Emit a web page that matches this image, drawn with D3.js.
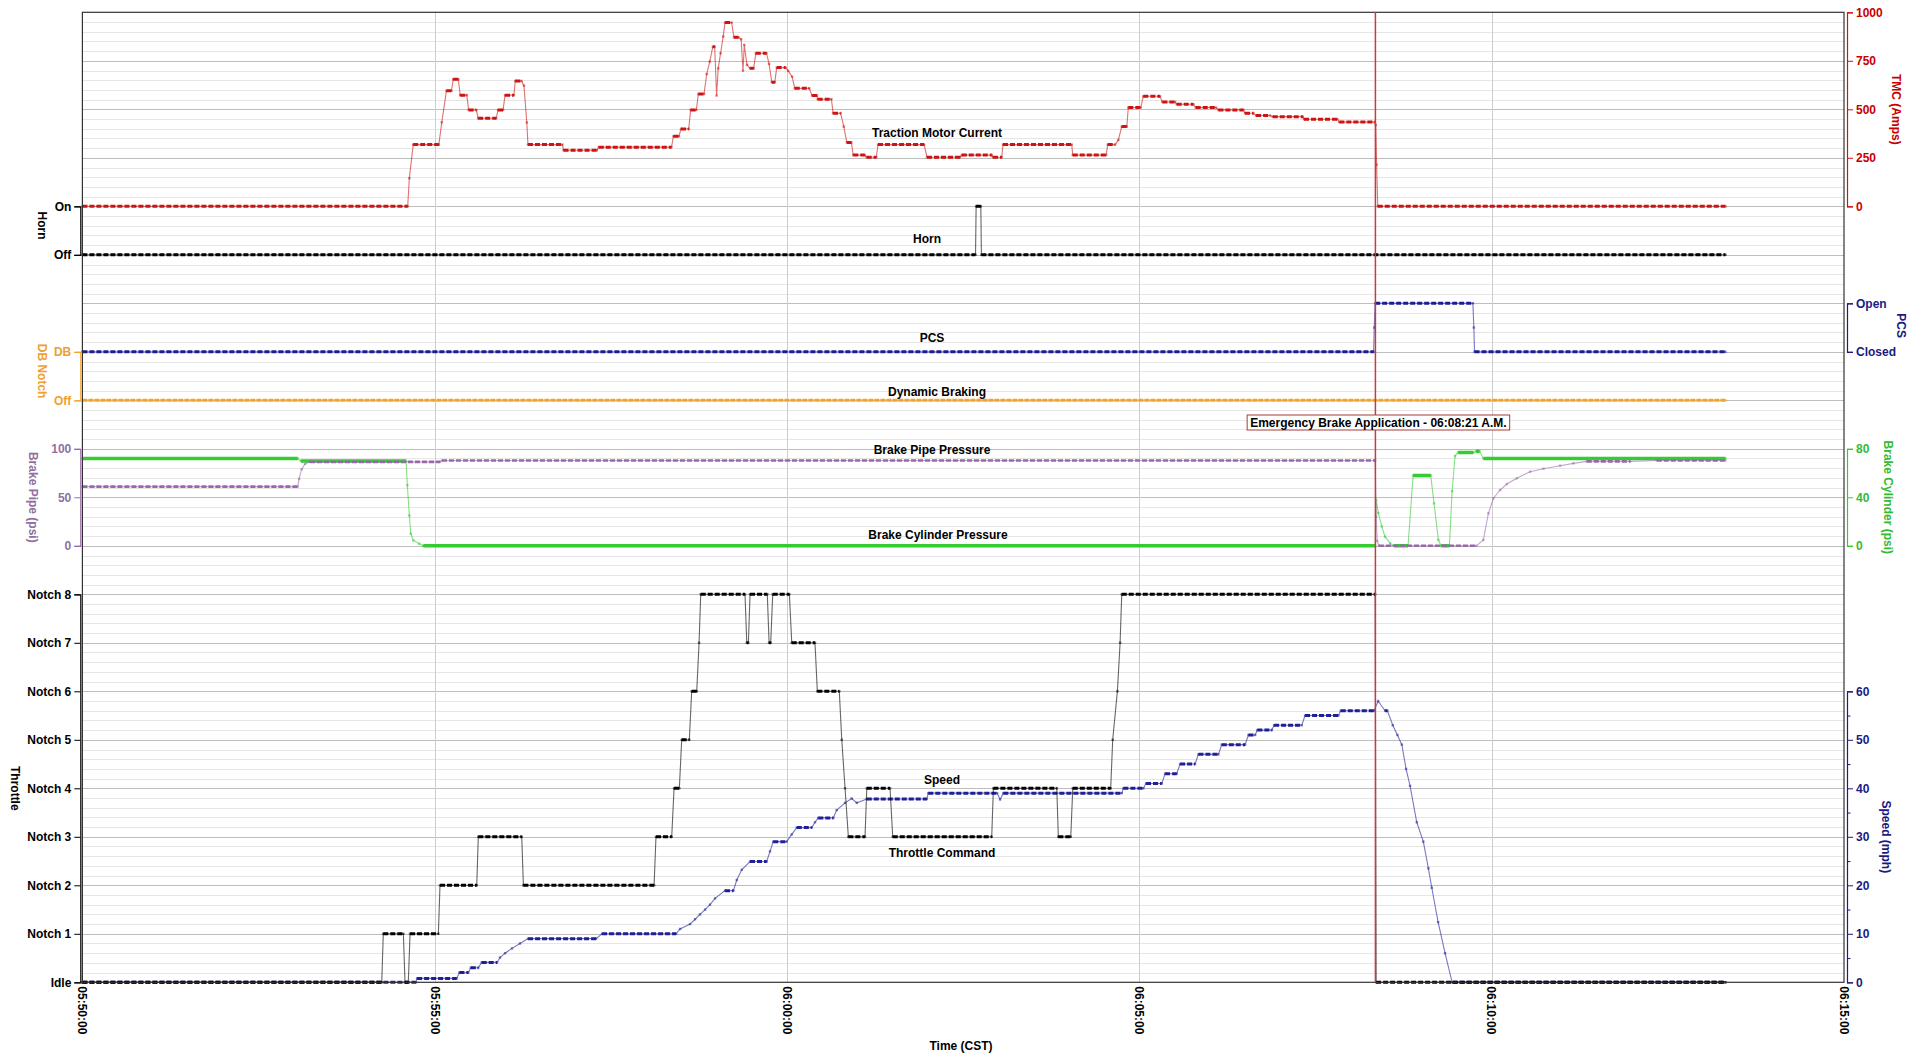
<!DOCTYPE html>
<html>
<head>
<meta charset="utf-8">
<script src="https://cdn.jsdelivr.net/npm/d3@7"></script>
<style>
  html, body { margin: 0; padding: 0; background: #fff; }
  svg { display: block; }
</style>
</head>
<body>
<svg id="chart" width="1927" height="1056"></svg>
<script>
// ---- time axis ----
const startTime = "05:50:00";
const endTime = "06:15:00";
const timeTicks = ["05:50:00", "05:55:00", "06:00:00", "06:05:00", "06:10:00", "06:15:00"];
const eventTime = "06:08:21";
const eventLabel = "Emergency Brake Application - 06:08:21 A.M.";

// ---- axis tick labels ----
const notchLabels = ["Idle", "Notch 1", "Notch 2", "Notch 3", "Notch 4", "Notch 5", "Notch 6", "Notch 7", "Notch 8"];
const hornLabels = ["Off", "On"];
const dbLabels = ["Off", "DB"];
const pcsLabels = ["Closed", "Open"];
const tmcTicks = [0, 250, 500, 750, 1000];
const brakePipeTicks = [0, 50, 100];
const brakeCylTicks = [0, 40, 80];
const speedTicks = [0, 5, 10, 15, 20, 25, 30, 35, 40, 45, 50, 55, 60];

// ---- recorded series: [seconds after 05:50:00, value] ----
const tmcData = [[0,0],[277,0],[278.4,145],[281.7,318],[303.5,318],[306,433],[310,595],[314.2,595],[315.8,655],[320.1,655],[321.7,573],[327.3,573],[328.9,497],[335.4,497],[337,454],[352.4,454],[353.9,497],[358.2,497],[359.9,573],[367.4,573],[368.6,646],[373.9,646],[376,622],[378.4,432],[379.4,318],[408.7,318],[409.7,289],[438,289],[439.7,305],[501.6,305],[503.3,361],[508,361],[509.7,399],[516.3,399],[517.9,497],[522.8,497],[524.5,579],[529.3,579],[531.6,682],[534.2,746],[536.8,823],[538.4,823],[540,571],[541.4,711],[543.4,789],[545.6,875],[547.2,947],[552.8,947],[554.8,871],[558.6,871],[560.9,861],[562.5,699],[563.6,832],[565.9,729],[568.5,711],[571.6,711],[573.4,789],[582.5,789],[584.7,734],[587,640],[589.6,640],[591.2,715],[598.7,715],[601,698],[604.3,668],[606.6,608],[618.9,608],[621.3,571],[625.5,571],[626.1,552],[637.8,552],[639.2,480],[645.6,480],[648.3,411],[650.9,329],[654.8,329],[656.4,264],[666.2,264],[667.8,253],[676,253],[677.5,318],[716.7,318],[719.2,253],[747.3,253],[748.8,264],[774.3,264],[775.4,253],[782.8,253],[783.9,318],[842.4,318],[843.3,264],[871.7,264],[873.1,318],[879.3,318],[882.1,342],[885,411],[889.3,411],[890.6,509],[901.2,509],[903.4,567],[917.6,567],[919.6,538],[930.4,538],[931.8,526],[946,526],[948,509],[965.3,509],[967.3,497],[988.6,497],[990,480],[997.1,480],[999.4,468],[1011.3,468],[1013.6,462],[1039.2,462],[1040.2,449],[1068.6,449],[1070.3,434],[1100.5,434],[1101.3,420],[1102,214],[1103,0],[1399,0]];
const hornData = [[0,0],[760.5,0],[761,1],[765,1],[765.5,0],[1399,0]];
const pcsData = [[0,0],[1099.5,0],[1100,0.5],[1100.8,1],[1184,1],[1184.8,0.5],[1185.4,0],[1399,0]];
const dbData = [[0,0],[1399,0]];
const brakePipeData = [[0,61],[183.3,61],[184.5,69],[186.7,79],[189.6,84.5],[193.8,86.5],[304.5,86.5],[306.2,88],[1100.8,88],[1101.6,30],[1102.5,5],[1104,0],[1187,0],[1192.9,6],[1197.2,33.5],[1201.5,49],[1207.2,57.5],[1212.9,63.7],[1221.4,69.6],[1232.7,76.4],[1244.1,79.5],[1258.3,82.6],[1269.6,85],[1281,87],[1317.9,87],[1340.6,88],[1399,88]];
const brakeCylData = [[0,72],[183.3,72],[186.1,70],[275.6,70],[276.7,50],[278.4,25],[279.6,10],[281.8,4.4],[286.9,1.7],[290.3,0],[1100.8,0],[1101.6,38],[1103.5,27],[1106.4,16],[1109.2,7.5],[1113.5,2],[1116.9,0],[1128.8,0],[1133.1,58],[1148.1,58],[1150.9,35],[1154.6,5],[1156.9,0],[1164,0],[1166.3,45],[1168.8,74],[1171.4,77],[1184.4,77],[1186.7,78],[1189.6,78],[1193,72],[1399,72]];
const throttleData = [[0,0],[254.9,0],[256.2,1],[273.3,1],[274.7,0],[277.5,0],[279,1],[303.1,1],[304.5,2],[335.8,2],[337.1,3],[374.1,3],[375.5,2],[486.8,2],[488.4,3],[501.8,3],[503.8,4],[508.3,4],[510.3,5],[516.8,5],[518.8,6],[523.1,6],[525.1,7],[526.5,8],[564.2,8],[565.7,7],[567.1,7],[568.5,8],[583.2,8],[584.7,7],[586.1,7],[587.8,8],[602,8],[604,7],[623.8,7],[625.8,6],[644.5,6],[646.6,5],[649.4,4],[652.2,3],[666.4,3],[667.9,4],[687.7,4],[690,3],[774.3,3],[775.7,4],[829.7,4],[831,3],[841.6,3],[843.3,4],[875.6,4],[877.3,5],[881.3,6],[883.6,7],[885,8],[1100.8,8],[1101.6,0],[1399,0]];
const speedData = [[0,0],[284,0],[285,0.8],[318.7,0.8],[321,2],[328.6,2],[330.7,3],[337.1,3],[340,4.1],[353.1,4.1],[355.6,5.1],[359.9,6],[365.8,7],[372.6,8],[379.5,9],[437.4,9],[442.5,10],[505.5,10],[508.9,11],[517.4,12],[521.7,13],[525.9,14],[530.2,15],[534.4,16],[538.7,17.3],[547.2,18.9],[554.3,18.9],[557.2,21.1],[561.4,23.2],[568.5,24.9],[582.7,24.9],[585.5,27],[588.3,29],[599.7,29],[604,30.5],[608.3,31.9],[621,31.9],[623.8,33],[626.6,33.9],[639.4,33.9],[642.3,35.5],[649.4,37],[655.1,37.9],[659.4,37],[667.9,37.8],[719,37.8],[720.3,39],[778.9,39],[781.4,37.7],[784.2,39],[885,39],[886.4,40],[903.4,40],[905.7,41],[919.1,41],[921.9,43],[931.8,43],[934.7,45],[947.4,45],[950.3,47],[967.3,47],[970.2,49],[990,49],[992.9,51],[998.6,51],[1000.5,52],[1012.8,52],[1014.7,53],[1038.3,53],[1041.1,55],[1069.5,55],[1071.5,56],[1099.9,56],[1103.3,58],[1109.3,56],[1111.2,56],[1115.8,53],[1119.7,51],[1123.5,49],[1127.1,44],[1130.5,40.5],[1136.2,33],[1141.8,29],[1146.1,23.5],[1149,19.5],[1154.4,12.4],[1160.3,6],[1166.3,0],[1399,0]];

// ---- layout ----
const FONT = '"Liberation Sans", Arial, Helvetica, sans-serif';
const M = { left: 82.4, right: 1844, top: 12.3, bottom: 982.3 };
const LEFT_AXIS_X = 80.3, RIGHT_AXIS_X = 1847;

const COLORS = {
  tmc: "#cc1414", tmcText: "#c80000",
  horn: "#000000",
  pcs: "#1c1c9a", pcsText: "#1a1a80",
  db: "#f2a52e", dbText: "#eea030",
  bp: "#9a68aa", bpText: "#9070a0",
  bc: "#33cc33", bcText: "#33bb33",
  throttle: "#000000",
  speed: "#1f1f99", speedText: "#1a1a80",
  event: "#c43c3c"
};

const parse = d3.timeParse("%H:%M:%S");
const t0 = parse(startTime);
const toDate = s => new Date(t0.getTime() + s * 1000);

const x = d3.scaleTime().domain([parse(startTime), parse(endTime)]).range([M.left, M.right]);
// 20 equal bands stacked down the plot; each signal owns a few of them
const row = d3.scaleLinear().domain([0, 20]).range([M.top, M.bottom]);

const yTmc = d3.scaleLinear().domain([0, 1000]).range([row(4), row(0)]);
const yHorn = d3.scaleLinear().domain([0, 1]).range([row(5), row(4)]);
const yPcs = d3.scaleLinear().domain([0, 1]).range([row(7), row(6)]);
const yDb = d3.scaleLinear().domain([0, 1]).range([row(8), row(7)]);
const yBp = d3.scaleLinear().domain([0, 100]).range([row(11), row(9)]);
const yBc = d3.scaleLinear().domain([0, 80]).range([row(11), row(9)]);
const yThr = d3.scaleLinear().domain([0, 8]).range([row(20), row(12)]);
const ySpd = d3.scaleLinear().domain([0, 60]).range([row(20), row(14)]);

const svg = d3.select("#chart").style("font-family", FONT).style("font-weight", "bold");

// ---- grid ----
const grid = svg.append("g").attr("shape-rendering", "crispEdges");
const minorRows = [];
for (let k = 0; k < 20; k++) for (let j = 1; j < 5; j++) minorRows.push(k + j / 5);
grid.selectAll("line.minor").data(minorRows).join("line")
  .attr("x1", M.left).attr("x2", M.right)
  .attr("y1", d => Math.round(row(d)) + 0.5).attr("y2", d => Math.round(row(d)) + 0.5)
  .attr("stroke", "#e6e6e6");
grid.selectAll("line.major").data(d3.range(1, 20)).join("line")
  .attr("x1", M.left).attr("x2", M.right)
  .attr("y1", d => Math.round(row(d)) + 0.5).attr("y2", d => Math.round(row(d)) + 0.5)
  .attr("stroke", "#bdbdbd");
grid.selectAll("line.vert").data(timeTicks.slice(1, -1)).join("line")
  .attr("x1", d => Math.round(x(parse(d))) + 0.5).attr("x2", d => Math.round(x(parse(d))) + 0.5)
  .attr("y1", M.top).attr("y2", M.bottom)
  .attr("stroke", "#cdcdcd");

// ---- series ----
const plot = svg.append("g");
function drawSeries(data, y, color, opt = {}) {
  const g = plot.append("g");
  const pts = data.map(d => [x(toDate(d[0])), y(d[1])]);
  g.append("path")
    .attr("d", d3.line()(pts))
    .attr("fill", "none")
    .attr("stroke", color)
    .attr("stroke-width", opt.thin || 1.1)
    .attr("stroke-opacity", opt.lineOpacity || 0.6);
  // steady runs (equal consecutive samples) show as a heavy marker band
  const runs = [];
  for (let i = 1; i < data.length; i++) {
    if (data[i][1] === data[i - 1][1]) runs.push(`M${pts[i - 1][0]},${pts[i - 1][1]}H${pts[i][0]}`);
  }
  g.append("path")
    .attr("d", runs.join(""))
    .attr("fill", "none")
    .attr("stroke", color)
    .attr("stroke-width", opt.heavy || 3)
    .attr("stroke-dasharray", opt.dash === undefined ? "5,2" : opt.dash);
  g.selectAll("rect").data(pts).join("rect")
    .attr("x", d => d[0] - 1.2).attr("y", d => d[1] - 1.2)
    .attr("width", 2.4).attr("height", 2.4)
    .attr("fill", color).attr("fill-opacity", 0.55);
}

drawSeries(tmcData, yTmc, COLORS.tmc);
drawSeries(hornData, yHorn, COLORS.horn);
drawSeries(pcsData, yPcs, COLORS.pcs);
drawSeries(dbData, yDb, COLORS.db, { dash: "5,1", heavy: 3 });
drawSeries(brakeCylData, yBc, COLORS.bc, { dash: "none", heavy: 3.6 });
drawSeries(brakePipeData, yBp, COLORS.bp, { heavy: 2.6 });
drawSeries(speedData, ySpd, COLORS.speed);
drawSeries(throttleData, yThr, COLORS.throttle);

// ---- frame ----
svg.append("rect")
  .attr("x", M.left).attr("y", M.top)
  .attr("width", M.right - M.left).attr("height", M.bottom - M.top)
  .attr("fill", "none").attr("stroke", "#333").attr("stroke-width", 1.2);

// ---- emergency event marker ----
const ex = x(parse(eventTime));
svg.append("line")
  .attr("x1", ex).attr("x2", ex).attr("y1", M.top).attr("y2", M.bottom)
  .attr("stroke", COLORS.event).attr("stroke-width", 1.5);

const ann = svg.append("g");
const annText = ann.append("text")
  .attr("x", ex + 3).attr("y", 427)
  .attr("text-anchor", "middle")
  .attr("font-size", 12).attr("fill", "#000")
  .text(eventLabel);
const bb = annText.node().getBBox();
ann.insert("rect", "text")
  .attr("x", bb.x - 3).attr("y", bb.y - 1)
  .attr("width", bb.width + 6).attr("height", bb.height + 1)
  .attr("fill", "#fff").attr("stroke", "#a83a3a").attr("stroke-width", 1);

// ---- axes ----
function styleAxis(g, color, textColor) {
  g.selectAll("path.domain").attr("stroke", color).attr("stroke-width", 1.2);
  g.selectAll(".tick line").attr("stroke", color);
  g.selectAll(".tick text").attr("fill", textColor || color)
    .attr("font-size", 12).attr("font-weight", "bold").attr("font-family", FONT);
}
function leftAxis(scale, values, fmt, color, textColor) {
  const g = svg.append("g").attr("transform", `translate(${LEFT_AXIS_X},0)`)
    .call(d3.axisLeft(scale).tickValues(values).tickFormat(fmt).tickSize(6).tickPadding(3));
  styleAxis(g, color, textColor);
  return g;
}
function rightAxis(scale, values, fmt, color, textColor) {
  const g = svg.append("g").attr("transform", `translate(${RIGHT_AXIS_X},0)`)
    .call(d3.axisRight(scale).tickValues(values).tickFormat(fmt).tickSize(6).tickPadding(3));
  styleAxis(g, color, textColor);
  return g;
}

leftAxis(yHorn, [0, 1], d => hornLabels[d], "#000");
leftAxis(yDb, [0, 1], d => dbLabels[d], COLORS.db, COLORS.dbText);
leftAxis(yBp, brakePipeTicks, d => d, COLORS.bp, COLORS.bpText);
leftAxis(yThr, d3.range(9), d => notchLabels[d], "#000");

rightAxis(yTmc, tmcTicks, d => d, COLORS.tmc, COLORS.tmcText);
rightAxis(yPcs, [0, 1], d => pcsLabels[d], COLORS.speedText);
rightAxis(yBc, brakeCylTicks, d => d, COLORS.bc, COLORS.bcText);
const spdAxis = rightAxis(ySpd, speedTicks, d => d, COLORS.speedText);
spdAxis.selectAll(".tick").filter(d => d % 10 !== 0).each(function () {
  d3.select(this).select("line").attr("x2", 3.5);
  d3.select(this).select("text").remove();
});

// time tick labels, rotated to read downward
svg.append("g").selectAll("text").data(timeTicks).join("text")
  .attr("transform", d => `translate(${x(parse(d))},${M.bottom + 4}) rotate(90)`)
  .attr("dy", "0.35em")
  .attr("font-size", 12).attr("fill", "#000")
  .text(d => d);

svg.append("text")
  .attr("x", 961).attr("y", 1050)
  .attr("text-anchor", "middle").attr("font-size", 12).attr("fill", "#000")
  .text("Time (CST)");

// ---- axis titles ----
const titles = [
  { text: "Horn", x: 42.7, y: (row(4) + row(5)) / 2 - 5, color: "#000" },
  { text: "DB Notch", x: 42.7, y: (row(7) + row(8)) / 2 - 5, color: COLORS.dbText },
  { text: "Brake Pipe (psi)", x: 33.3, y: (row(9) + row(11)) / 2, color: COLORS.bpText },
  { text: "Throttle", x: 15, y: (row(12) + row(20)) / 2, color: "#000" },
  { text: "TMC (Amps)", x: 1896.7, y: (row(0) + row(4)) / 2, color: COLORS.tmcText },
  { text: "PCS", x: 1901.7, y: (row(6) + row(7)) / 2 - 2, color: COLORS.speedText },
  { text: "Brake Cylinder (psi)", x: 1888.3, y: (row(9) + row(11)) / 2, color: COLORS.bcText },
  { text: "Speed (mph)", x: 1886.7, y: (row(14) + row(20)) / 2, color: COLORS.speedText }
];
svg.append("g").selectAll("text").data(titles).join("text")
  .attr("transform", d => `translate(${d.x},${d.y}) rotate(90)`)
  .attr("text-anchor", "middle").attr("dy", "0.35em")
  .attr("font-size", 12).attr("fill", d => d.color)
  .text(d => d.text);

// ---- in-plot series names ----
const seriesNames = [
  { text: "Traction Motor Current", x: 937, y: 137 },
  { text: "Horn", x: 927, y: 242.5 },
  { text: "PCS", x: 932, y: 342 },
  { text: "Dynamic Braking", x: 937, y: 396 },
  { text: "Brake Pipe Pressure", x: 932, y: 454 },
  { text: "Brake Cylinder Pressure", x: 938, y: 539 },
  { text: "Speed", x: 942, y: 783.5 },
  { text: "Throttle Command", x: 942, y: 857 }
];
svg.append("g").selectAll("text").data(seriesNames).join("text")
  .attr("x", d => d.x).attr("y", d => d.y)
  .attr("text-anchor", "middle").attr("font-size", 12).attr("fill", "#000")
  .text(d => d.text);
</script>
</body>
</html>
